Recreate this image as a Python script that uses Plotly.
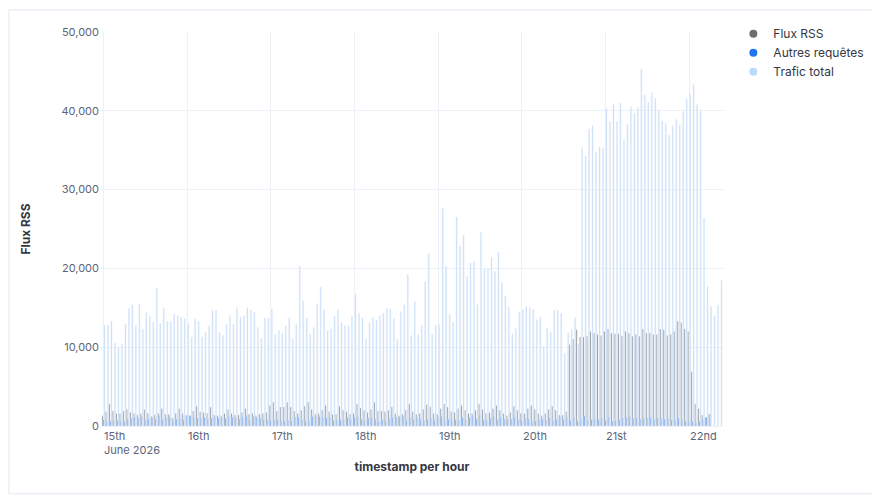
import plotly.graph_objects as go
import pandas as pd

# ================== DATA (thousands of requests per hour) ==================
START = "2026-06-15 00:00"

TOTAL_K = [
    12.8, 12.8, 13.3, 10.5, 10.0, 10.4, 12.9, 14.9, 15.4, 12.8, 15.5, 12.3, 14.4, 13.9, 13.2, 17.5,
    13.0, 15.0, 13.3, 13.3, 14.2, 14.0, 13.8, 13.6, 13.0, 11.3, 13.6, 13.3, 11.3, 11.9, 12.7, 14.7,
    14.7, 11.9, 11.5, 12.9, 14.0, 12.9, 15.0, 13.8, 14.0, 15.0, 14.7, 14.4, 12.5,
    11.1, 13.7, 13.7, 14.8, 11.6, 12.1, 11.8, 12.7, 13.7, 11.0, 12.9, 20.3, 15.9, 13.7, 11.6, 12.5,
    15.5, 17.6, 14.8, 12.1, 12.3, 13.9, 14.7, 13.1, 12.8, 12.7, 13.9, 16.7, 14.3, 13.7, 11.0, 13.1,
    13.8, 13.4, 14.0, 14.3, 14.9, 14.8, 13.6, 11.0, 14.5, 15.4, 19.2, 11.5, 15.8, 11.6,
    12.8, 18.3, 21.9, 11.6, 12.8, 12.9, 27.6, 20.3, 14.2, 13.1, 26.5, 22.8, 24.2, 19.0, 20.7, 20.9,
    15.4, 24.6, 19.9, 19.9, 21.4, 19.6, 22.1, 18.1, 16.5, 15.1, 11.7, 12.4, 14.5, 14.8, 15.2, 15.0,
    14.8, 13.5, 13.8, 10.1, 12.4, 11.9, 14.7, 14.7, 14.3, 9.2, 11.8, 12.2, 13.7, 10.4,
    35.3, 34.2, 37.7, 38.1, 34.7, 35.4, 35.2, 40.3, 38.6, 40.8, 38.6, 41.0, 36.3, 38.3, 40.5, 39.7,
    40.4, 45.3, 42.0, 41.1, 42.3, 41.6, 40.0, 38.7, 38.4, 36.9, 38.1, 38.9, 38.2, 39.9, 41.5, 42.1,
    43.3, 40.8, 40.0, 26.4, 17.7, 15.2, 14.0, 15.3, 18.5,
]

RSS_K = [
    1.3, 1.8, 2.8, 1.9, 1.6, 1.6, 1.9, 2.1, 1.7, 1.6, 1.4, 1.6, 2.1, 1.6, 1.2, 1.4,
    1.6, 2.2, 1.5, 1.5, 1.0, 1.6, 2.2, 1.6, 1.3, 1.3, 1.9, 2.5, 1.8, 1.7, 1.6, 2.4,
    1.4, 1.3, 1.3, 1.6, 2.1, 1.6, 1.4, 1.4, 1.7, 2.2, 1.5, 1.6, 1.3, 1.5,
    1.6, 1.7, 2.6, 3.0, 1.9, 2.4, 2.4, 3.0, 2.4, 1.9, 1.6, 2.0, 2.5, 3.0, 2.1, 1.5,
    1.6, 2.0, 2.6, 1.8, 1.5, 1.5, 2.5, 2.0, 1.8, 1.5, 1.6, 2.8, 2.3, 2.0, 1.7, 2.1,
    3.0, 1.9, 1.9, 1.8, 2.0, 2.4, 1.6, 1.3, 1.5, 2.0, 2.8, 1.8, 1.5,
    1.6, 2.1, 2.7, 2.4, 1.6, 1.5, 2.2, 2.8, 2.4, 1.8, 1.7, 2.2, 2.6, 2.0, 1.6, 1.6,
    2.0, 2.8, 2.1, 1.6, 1.7, 2.2, 2.6, 2.0, 1.6, 1.3, 1.7, 2.5, 2.0, 1.6, 1.6, 2.2,
    2.6, 2.1, 1.6, 1.3, 1.6, 2.1, 2.5, 2.0, 1.4, 1.4, 1.8,
    10.3, 11.0, 12.2, 11.3, 11.3, 11.4, 12.0, 11.8, 11.6, 11.5, 12.0, 12.3, 11.8, 11.7, 11.7, 11.4,
    12.0, 11.8, 11.4, 11.6, 11.4, 12.3, 11.8, 11.8, 11.6, 11.6, 12.3, 12.2, 11.5, 11.6, 12.0, 13.3,
    13.1, 12.3, 12.0, 6.9, 2.8, 2.2, 1.4, 1.1, 1.5,
]

OTHER_K = [
    0.8, 0.6, 0.6, 0.7, 0.7, 0.6, 0.6, 0.9, 1.0, 1.1, 1.0, 1.2, 0.8, 0.9, 1.1, 0.9,
    1.3, 0.8, 1.1, 1.2, 0.7, 0.9, 1.0, 0.8, 1.4, 1.3, 1.1, 1.0, 1.0, 1.1, 0.9, 1.0,
    1.2, 1.0, 1.1, 1.0, 1.2, 1.1, 1.0, 0.9, 1.1, 1.3, 0.8, 1.2, 1.1, 1.0,
    0.8, 0.8, 0.7, 0.8, 0.8, 0.6, 0.6, 0.7, 0.6, 1.1, 1.1, 0.9, 0.6, 0.8, 1.2, 1.3,
    1.2, 1.1, 1.0, 1.1, 0.7, 0.8, 0.8, 0.9, 1.1, 0.9, 1.1, 1.2, 0.9, 0.7, 1.0, 1.1,
    0.9, 0.6, 0.8, 0.7, 1.0, 1.1, 1.1, 1.2, 1.3, 0.7, 1.1, 0.8, 1.0,
    0.9, 0.7, 0.8, 1.0, 0.7, 1.2, 1.2, 0.8, 0.9, 0.7, 0.8, 0.7, 1.1, 0.8, 1.1, 1.3,
    0.9, 1.4, 0.8, 0.7, 1.0, 1.2, 0.8, 1.1, 0.9, 0.8, 0.9, 1.1, 0.8, 0.7, 1.0, 0.9,
    0.6, 0.6, 0.8, 0.9, 0.8, 1.0, 0.7, 0.9, 1.2, 0.8, 1.1,
    0.7, 1.1, 0.6, 0.9, 1.3, 0.7, 0.8, 0.9, 0.8, 1.0, 0.7, 1.1, 0.6, 0.7, 0.8, 1.0,
    1.1, 1.2, 1.0, 1.0, 0.9, 1.0, 1.0, 1.1, 0.9, 1.0, 1.0, 0.9, 1.0, 0.8, 0.8, 1.0,
    0.8, 0.6, 0.6, 0.6, 0.5, 0.6, 0.8, 1.1, 1.5,
]

TICK_DAYS = ["2026-06-15", "2026-06-16", "2026-06-17", "2026-06-18",
             "2026-06-19", "2026-06-20", "2026-06-21", "2026-06-22"]
TICK_TEXT = ["15th<br>June 2026", "16th", "17th", "18th", "19th", "20th", "21st", "22nd"]

SERIES = [("Flux RSS", "#6f6f6f"), ("Autres requêtes", "#1f74f0"), ("Trafic total", "#bdd9fb")]

# ================== CHART ==================
hours = pd.date_range(START, periods=len(TOTAL_K), freq="h")
values = [[v * 1000 for v in RSS_K], [v * 1000 for v in OTHER_K], [v * 1000 for v in TOTAL_K]]

FONT = "Inter, Noto Sans, sans-serif"
fig = go.Figure()
for (name, color), ys in zip(SERIES, values):
    fig.add_trace(go.Bar(x=hours, y=ys, name=name, marker_color=color, showlegend=False))
# legend entries with round markers
for name, color in SERIES:
    fig.add_trace(go.Scatter(x=[None], y=[None], mode="markers", name=name,
                             marker=dict(color=color, size=8, symbol="circle")))

fig.update_layout(
    width=880, height=500,
    barmode="group", bargap=0.12, bargroupgap=0,
    paper_bgcolor="white", plot_bgcolor="white",
    margin=dict(l=92, r=164, t=23, b=82),
    font=dict(family=FONT, size=11, color="#5b6478"),
    legend=dict(x=1.015, y=1.03, xanchor="left", yanchor="top", tracegroupgap=2,
                font=dict(size=12, color="#343741")),
    shapes=[dict(type="rect", xref="paper", yref="paper",
                 x0=-0.146, x1=1.240, y0=-0.172, y1=1.056,
                 line=dict(color="#e3e8f2", width=1), layer="below")],
)
for day, text in zip(TICK_DAYS, TICK_TEXT):
    fig.add_annotation(x=day, y=0, xref="x", yref="paper", text=text, showarrow=False,
                       xanchor="left", yanchor="top", align="left", xshift=-1, yshift=-1,
                       font=dict(size=11, color="#5b6478"))
fig.update_xaxes(
    range=["2026-06-14 23:00", "2026-06-22 10:00"],
    tickvals=TICK_DAYS, showticklabels=False,
    showgrid=True, gridcolor="#eef1f7", showline=True, linecolor="#eef1f7",
    title=dict(text="timestamp per hour", font=dict(size=12, color="#343741", weight="bold"),
               standoff=36),
)
fig.update_yaxes(
    range=[0, 50000], dtick=10000, tickformat=",",
    showgrid=True, gridcolor="#eef1f7", zeroline=False,
    title=dict(text="Flux RSS", font=dict(size=12, color="#343741", weight="bold"), standoff=28),
)

fig.write_html("out.html")
